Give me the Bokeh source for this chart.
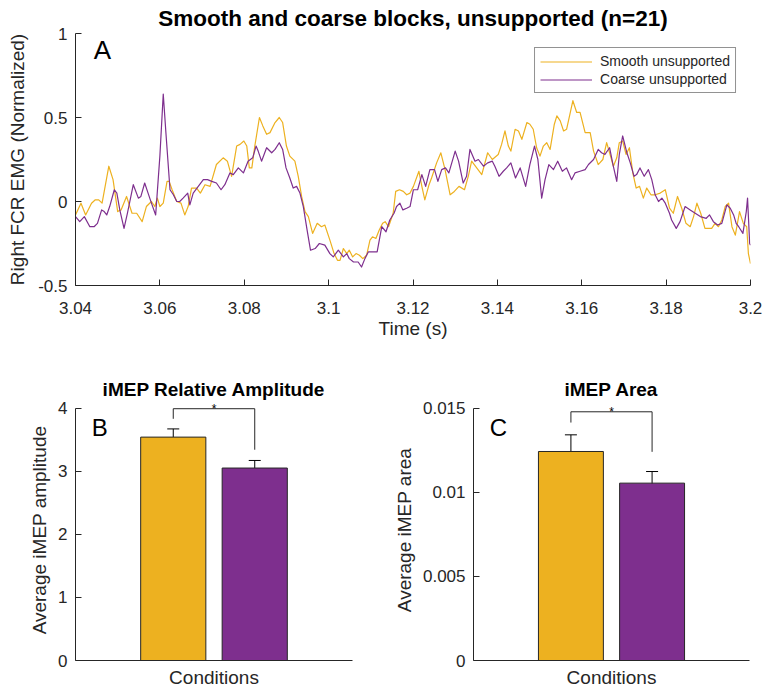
from bokeh.plotting import figure
from bokeh.layouts import column, row
from bokeh.models import (FixedTicker, CustomJSTickFormatter, Label, Legend, LegendItem,
                          Range1d, ColumnDataSource, Whisker, TeeHead)
from bokeh.embed import file_html
from bokeh.resources import INLINE

# ---------------- data ----------------
t_smooth = [3.0400, 3.0413, 3.0424, 3.0438, 3.0447, 3.0455, 3.0463, 3.0479, 3.0489, 3.0500,
            3.0508, 3.0521, 3.0534, 3.0545, 3.0558, 3.0568, 3.0580, 3.0588, 3.0594, 3.0600,
            3.0608, 3.0617, 3.0622, 3.0629, 3.0640, 3.0650, 3.0659, 3.0667, 3.0675, 3.0687,
            3.0696, 3.0707, 3.0719, 3.0734, 3.0750, 3.0760, 3.0770, 3.0782, 3.0790, 3.0799,
            3.0806, 3.0812, 3.0818, 3.0825, 3.0836, 3.0844, 3.0853, 3.0861, 3.0873, 3.0883,
            3.0891, 3.0900, 3.0908, 3.0920, 3.0928, 3.0936, 3.0944, 3.0952, 3.0962, 3.0973,
            3.0983, 3.0991, 3.1003, 3.1013, 3.1021, 3.1027, 3.1035, 3.1043, 3.1049, 3.1057,
            3.1065, 3.1073, 3.1081, 3.1090, 3.1098, 3.1104, 3.1112, 3.1120, 3.1128, 3.1134,
            3.1142, 3.1153, 3.1159, 3.1168, 3.1177, 3.1185, 3.1193, 3.1201, 3.1214, 3.1221,
            3.1228, 3.1238, 3.1244, 3.1256, 3.1266, 3.1276, 3.1288, 3.1298, 3.1309, 3.1322,
            3.1331, 3.1339, 3.1351, 3.1363, 3.1377, 3.1388, 3.1402, 3.1410, 3.1418, 3.1426,
            3.1432, 3.1442, 3.1450, 3.1458, 3.1470, 3.1477, 3.1485, 3.1493, 3.1501, 3.1509,
            3.1517, 3.1525, 3.1535, 3.1541, 3.1549, 3.1557, 3.1564, 3.1572, 3.1579, 3.1588,
            3.1596, 3.1608, 3.1620, 3.1628, 3.1639, 3.1650, 3.1659, 3.1666, 3.1675, 3.1683,
            3.1689, 3.1697, 3.1705, 3.1713, 3.1721, 3.1729, 3.1737, 3.1746, 3.1754, 3.1764,
            3.1774, 3.1786, 3.1798, 3.1808, 3.1817, 3.1827, 3.1837, 3.1847, 3.1857, 3.1865,
            3.1873, 3.1882, 3.1892, 3.1900, 3.1908, 3.1916, 3.1924, 3.1932, 3.1940, 3.1948,
            3.1956, 3.1964, 3.1974, 3.1983, 3.1991, 3.1995, 3.2000]
emg_smooth = [-0.08, -0.01, -0.08, -0.01, 0.01, 0.01, -0.01, 0.21, 0.13, -0.06,
              -0.05, 0.03, -0.07, -0.07, -0.12, -0.03, 0.00, -0.03, 0.02, -0.03,
              -0.01, 0.12, 0.12, 0.07, 0.00, -0.01, -0.08, -0.03, 0.08, 0.08,
              0.05, 0.10, 0.09, 0.22, 0.26, 0.24, 0.15, 0.33, 0.34, 0.36,
              0.33, 0.20, 0.20, 0.33, 0.50, 0.45, 0.40, 0.41, 0.47, 0.50,
              0.47, 0.33, 0.27, 0.24, 0.15, 0.03, -0.06, -0.09, -0.19, -0.13,
              -0.15, -0.14, -0.23, -0.31, -0.35, -0.35, -0.28, -0.31, -0.29, -0.33,
              -0.31, -0.32, -0.34, -0.32, -0.23, -0.21, -0.22, -0.17, -0.13, -0.12,
              -0.15, -0.07, 0.06, 0.07, 0.06, 0.04, 0.05, 0.09, 0.18, 0.09,
              0.01, 0.10, 0.14, 0.23, 0.29, 0.19, 0.04, 0.06, 0.09, 0.07,
              0.15, 0.24, 0.20, 0.16, 0.29, 0.25, 0.28, 0.34, 0.42, 0.33,
              0.30, 0.43, 0.42, 0.37, 0.47, 0.46, 0.43, 0.32, 0.27, 0.33,
              0.35, 0.31, 0.46, 0.51, 0.48, 0.42, 0.43, 0.52, 0.60, 0.53,
              0.53, 0.41, 0.41, 0.30, 0.22, 0.25, 0.35, 0.29, 0.21, 0.26,
              0.35, 0.36, 0.28, 0.32, 0.17, 0.08, 0.09, 0.02, 0.08, 0.04,
              0.04, 0.05, 0.07, -0.04, -0.07, 0.03, -0.04, -0.13, -0.15, -0.09,
              -0.01, -0.07, -0.16, -0.16, -0.16, -0.13, -0.15, -0.11, -0.03, -0.01,
              -0.15, -0.20, -0.06, -0.13, -0.15, -0.31, -0.37]

t_coarse = [3.0400, 3.0410, 3.0421, 3.0434, 3.0444, 3.0452, 3.0462, 3.0468, 3.0474, 3.0481,
            3.0492, 3.0498, 3.0505, 3.0515, 3.0523, 3.0537, 3.0549, 3.0555, 3.0564, 3.0572,
            3.0580, 3.0590, 3.0600, 3.0608, 3.0614, 3.0624, 3.0632, 3.0640, 3.0647, 3.0655,
            3.0666, 3.0671, 3.0679, 3.0691, 3.0703, 3.0713, 3.0723, 3.0734, 3.0745, 3.0754,
            3.0766, 3.0774, 3.0786, 3.0798, 3.0809, 3.0820, 3.0828, 3.0833, 3.0841, 3.0853,
            3.0865, 3.0873, 3.0883, 3.0891, 3.0899, 3.0908, 3.0916, 3.0924, 3.0932, 3.0940,
            3.0949, 3.0957, 3.0968, 3.0978, 3.0991, 3.1003, 3.1011, 3.1023, 3.1035, 3.1043,
            3.1049, 3.1059, 3.1070, 3.1078, 3.1086, 3.1094, 3.1106, 3.1115, 3.1126, 3.1136,
            3.1145, 3.1155, 3.1161, 3.1169, 3.1176, 3.1185, 3.1193, 3.1201, 3.1211, 3.1221,
            3.1230, 3.1240, 3.1251, 3.1259, 3.1268, 3.1277, 3.1285, 3.1300, 3.1308, 3.1319,
            3.1327, 3.1335, 3.1347, 3.1355, 3.1367, 3.1377, 3.1388, 3.1394, 3.1404, 3.1414,
            3.1422, 3.1432, 3.1443, 3.1454, 3.1467, 3.1477, 3.1488, 3.1496, 3.1505, 3.1513,
            3.1522, 3.1533, 3.1543, 3.1554, 3.1564, 3.1576, 3.1584, 3.1596, 3.1608, 3.1616,
            3.1628, 3.1639, 3.1647, 3.1655, 3.1666, 3.1674, 3.1683, 3.1689, 3.1697, 3.1707,
            3.1715, 3.1724, 3.1730, 3.1738, 3.1748, 3.1758, 3.1766, 3.1774, 3.1782, 3.1790,
            3.1798, 3.1808, 3.1813, 3.1824, 3.1833, 3.1845, 3.1857, 3.1869, 3.1881, 3.1895,
            3.1903, 3.1912, 3.1922, 3.1932, 3.1944, 3.1952, 3.1960, 3.1966, 3.1972, 3.1982,
            3.1990, 3.1993, 3.1998, 3.2000]
emg_coarse = [-0.09, -0.12, -0.09, -0.15, -0.15, -0.13, -0.05, -0.06, -0.08, -0.03,
              0.07, 0.05, -0.05, -0.16, -0.07, 0.10, 0.02, 0.03, 0.11, 0.05,
              -0.01, -0.08, 0.27, 0.64, 0.42, 0.07, 0.04, 0.00, 0.00, 0.02,
              0.05, -0.02, 0.05, 0.09, 0.13, 0.13, 0.12, 0.11, 0.07, 0.10,
              0.17, 0.16, 0.20, 0.17, 0.24, 0.26, 0.33, 0.30, 0.24, 0.32,
              0.29, 0.31, 0.35, 0.31, 0.20, 0.14, 0.08, 0.09, 0.05, -0.03,
              -0.17, -0.29, -0.28, -0.25, -0.26, -0.31, -0.33, -0.29, -0.33, -0.31,
              -0.34, -0.36, -0.36, -0.39, -0.34, -0.30, -0.30, -0.30, -0.15, -0.18,
              -0.11, -0.07, -0.03, -0.01, -0.05, -0.04, -0.03, 0.07, 0.07, 0.16,
              0.09, 0.19, 0.19, 0.12, 0.19, 0.20, 0.17, 0.30, 0.24, 0.11,
              0.15, 0.31, 0.24, 0.25, 0.21, 0.23, 0.24, 0.21, 0.15, 0.18,
              0.20, 0.23, 0.14, 0.20, 0.09, 0.22, 0.33, 0.25, 0.02, 0.13,
              0.22, 0.19, 0.24, 0.18, 0.20, 0.13, 0.17, 0.18, 0.19, 0.22,
              0.25, 0.31, 0.29, 0.28, 0.32, 0.22, 0.12, 0.28, 0.39, 0.29,
              0.23, 0.15, 0.16, 0.20, 0.15, 0.19, 0.13, 0.04, 0.00, 0.02,
              -0.01, -0.07, -0.11, -0.16, -0.12, -0.03, -0.05, -0.07, -0.09, -0.10,
              -0.08, -0.12, -0.14, -0.13, -0.02, -0.04, -0.08, -0.13, -0.15, -0.19,
              -0.06, 0.02, -0.25, -0.26]

series_names = ["Smooth unsupported", "Coarse unsupported"]
time_ticks = [3.04, 3.06, 3.08, 3.10, 3.12, 3.14, 3.16, 3.18, 3.20]
emg_ticks = [-0.5, 0, 0.5, 1]

cond_x = [1, 2]
amp_mean = [3.54, 3.05]
amp_lo = [3.42, 2.93]
amp_hi = [3.67, 3.17]
amp_ticks = [0, 1, 2, 3, 4]
amp_sig_y = [3.83, 3.99, 3.99, 3.34]

area_mean = [0.01242, 0.01054]
area_lo = [0.01137, 0.00988]
area_hi = [0.01341, 0.01123]
area_ticks = [0, 0.005, 0.01, 0.015]
area_sig_y = [0.01414, 0.01478, 0.01478, 0.0124]

# ---------------- style ----------------
FONT = "Liberation Sans"
AX = "#262626"
ORANGE = "#EDB120"
PURPLE = "#7E2F8E"
bar_colors = [ORANGE, PURPLE]
fmt = CustomJSTickFormatter(code="return Number(tick.toFixed(4)).toString();")


def style(p, ylab_standoff):
    p.grid.visible = False
    p.outline_line_color = None
    p.background_fill_color = "white"
    p.border_fill_color = "white"
    for ax in p.axis:
        ax.axis_line_color = AX
        ax.axis_line_width = 1
        ax.major_tick_line_color = AX
        ax.major_tick_in = 6
        ax.major_tick_out = 0
        ax.minor_tick_line_color = None
        ax.major_label_text_font = FONT
        ax.major_label_text_font_size = "17px"
        ax.major_label_text_color = AX
        ax.axis_label_text_font = FONT
        ax.axis_label_text_font_size = "19px"
        ax.axis_label_text_font_style = "normal"
        ax.axis_label_text_color = AX
    p.yaxis.major_label_standoff = 8
    p.yaxis.axis_label_standoff = ylab_standoff
    p.title.align = "center"
    p.title.text_font = FONT
    p.title.text_font_style = "bold"
    p.title.text_color = "black"


# ---------------- panel A ----------------
pa = figure(width=764, height=345, x_range=Range1d(3.04, 3.2), y_range=Range1d(-0.5, 1),
            output_backend="svg", toolbar_location=None,
            min_border_left=75, min_border_right=14, min_border_top=33, min_border_bottom=60,
            title="Smooth and coarse blocks, unsupported (n=21)")
r1 = pa.line(t_smooth, emg_smooth, line_color=ORANGE, line_width=1.2, line_join="round")
r2 = pa.line(t_coarse, emg_coarse, line_color=PURPLE, line_width=1.2, line_join="round")
style(pa, 7)
pa.title.text_font_size = "22.5px"
pa.title.standoff = 5
pa.xaxis.ticker = FixedTicker(ticks=time_ticks)
pa.yaxis.ticker = FixedTicker(ticks=emg_ticks)
pa.xaxis.formatter = fmt
pa.yaxis.formatter = fmt
pa.xaxis.major_label_standoff = 16
pa.xaxis.axis_label = "Time (s)"
pa.yaxis.axis_label = "Right FCR EMG (Normalized)"
pa.xaxis.axis_label_standoff = 1
legend = Legend(items=[LegendItem(label=series_names[0], renderers=[r1]),
                       LegendItem(label=series_names[1], renderers=[r2])],
                location="top_right", margin=14, padding=5, spacing=2,
                glyph_width=52, glyph_height=13, label_height=13, label_standoff=8,
                label_text_font=FONT, label_text_font_size="14px", label_text_color=AX,
                border_line_color=AX, border_line_width=1, background_fill_alpha=1)
pa.add_layout(legend)
pa.add_layout(Label(x=3.0443, y=0.90, text="A", text_font=FONT, text_font_size="26px",
                    text_baseline="middle", text_align="left", text_color="black"))


# ---------------- bar panels ----------------
def bar_panel(means, lo, hi, ticks, sig_y, ymax, title, ylabel, letter, letter_y,
              width, left, right, ylab_standoff):
    p = figure(width=width, height=346, x_range=Range1d(-0.2, 3.2),
               y_range=Range1d(0, ymax * 1.034),
               output_backend="svg", toolbar_location=None,
               min_border_left=left, min_border_right=right, min_border_top=54,
               min_border_bottom=31, title=title)
    p.vbar(x=cond_x, top=means, width=0.8, fill_color=bar_colors, line_color=AX, line_width=1)
    src = ColumnDataSource(dict(x=cond_x, lo=lo, hi=hi))
    p.add_layout(Whisker(source=src, base="x", lower="lo", upper="hi", line_color="black",
                         line_width=1,
                         upper_head=TeeHead(size=12, line_color="black", line_width=1),
                         lower_head=TeeHead(size=12, line_color="black", line_width=1)))
    p.line([cond_x[0], cond_x[0], cond_x[1], cond_x[1]], sig_y, line_color=AX, line_width=1)
    p.add_layout(Label(x=(cond_x[0] + cond_x[1]) / 2, y=sig_y[1], text="*", text_font=FONT,
                       text_font_size="12px", text_align="center", text_baseline="alphabetic",
                       text_color="black"))
    style(p, ylab_standoff)
    p.title.text_font_size = "19px"
    p.title.standoff = 0
    p.xaxis.ticker = FixedTicker(ticks=[])
    p.xaxis.axis_label = "Conditions"
    p.xaxis.axis_label_standoff = 6
    p.yaxis.ticker = FixedTicker(ticks=ticks)
    p.yaxis.bounds = (0, ymax)
    p.yaxis.formatter = fmt
    p.yaxis.axis_label = ylabel
    p.add_layout(Label(x=0.0, y=letter_y, text=letter, text_font=FONT, text_font_size="24px",
                       text_baseline="middle", text_align="left", text_color="black"))
    return p


pb = bar_panel(amp_mean, amp_lo, amp_hi, amp_ticks, amp_sig_y, 4, "iMEP Relative Amplitude",
               "Average iMEP amplitude", "B", 3.70, 382, 75, 30, 5)
pc = bar_panel(area_mean, area_lo, area_hi, area_ticks, area_sig_y, 0.015, "iMEP Area",
               "Average iMEP area", "C", 0.01386, 382, 91, 15, 5)

layout = column(pa, row(pb, pc, spacing=0), spacing=0)
open("out.html", "w").write(file_html(layout, INLINE))
